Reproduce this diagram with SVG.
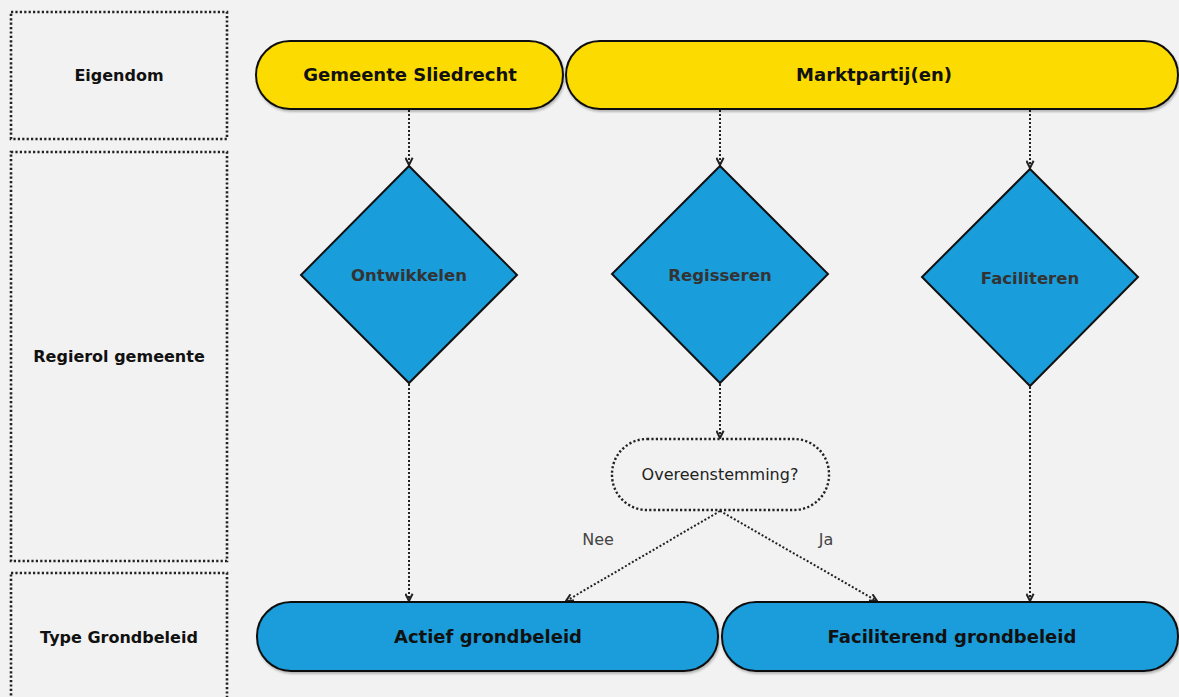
<svg xmlns="http://www.w3.org/2000/svg" width="1179" height="697" viewBox="0 0 1179 697">
<style>
.lane{fill:none;stroke:#222;stroke-width:2.6;stroke-dasharray:2.2 2.2}
.lt{font-family:"DejaVu Sans",Verdana,sans-serif;font-weight:bold;font-size:16px;fill:#111;text-anchor:middle}
.yel{fill:#fcdc04;stroke:#111;stroke-width:2}
.blu{fill:#1a9ddb;stroke:#111;stroke-width:2}
.pt{font-family:"DejaVu Sans",Verdana,sans-serif;font-weight:bold;font-size:18px;fill:#111;text-anchor:middle}
.dt{font-family:"DejaVu Sans",Verdana,sans-serif;font-weight:bold;font-size:16.5px;fill:#333;text-anchor:middle}
.con{fill:none;stroke:#222;stroke-width:2;stroke-dasharray:2 2}
.q{fill:#f2f2f2;stroke:#222;stroke-width:2.4;stroke-dasharray:2.2 2.2}
.qt{font-family:"DejaVu Sans",Verdana,sans-serif;font-size:16px;fill:#222;text-anchor:middle}
.lbl{font-family:"DejaVu Sans",Verdana,sans-serif;font-size:16px;fill:#444;text-anchor:middle}
</style>
<defs>
<marker id="arr" viewBox="0 0 10 10" refX="9" refY="5" markerWidth="9" markerHeight="9" markerUnits="userSpaceOnUse" orient="auto">
<path d="M1,1 L9,5 L1,9" fill="none" stroke="#222" stroke-width="2.2"/>
</marker>
<filter id="sh" x="-5%" y="-10%" width="110%" height="130%">
<feDropShadow dx="1" dy="2" stdDeviation="1" flood-color="#000" flood-opacity="0.25"/>
</filter>
</defs>
<rect width="1179" height="697" fill="#f2f2f2"/>
<g id="lane-eigendom"><rect class="lane" x="11" y="12" width="216" height="127"/><text class="lt" x="119" y="81">Eigendom</text></g>
<g id="lane-regierol"><rect class="lane" x="11" y="152" width="216" height="409"/><text class="lt" x="119" y="362">Regierol gemeente</text></g>
<g id="lane-type"><rect class="lane" x="11" y="573" width="216" height="140"/><text class="lt" x="119" y="643">Type Grondbeleid</text></g>
<g id="connectors">
<line class="con" x1="409" y1="110" x2="409" y2="165" marker-end="url(#arr)"/>
<line class="con" x1="720" y1="110" x2="720" y2="165" marker-end="url(#arr)"/>
<line class="con" x1="1030" y1="110" x2="1030" y2="168" marker-end="url(#arr)"/>
<line class="con" x1="409" y1="384" x2="409" y2="601" marker-end="url(#arr)"/>
<line class="con" x1="720" y1="384" x2="720" y2="438" marker-end="url(#arr)"/>
<line class="con" x1="720" y1="511" x2="566" y2="601" marker-end="url(#arr)"/>
<line class="con" x1="720" y1="511" x2="877" y2="601" marker-end="url(#arr)"/>
<line class="con" x1="1030" y1="387" x2="1030" y2="601" marker-end="url(#arr)"/>
<text class="lbl" x="598" y="545">Nee</text>
<text class="lbl" x="826" y="545">Ja</text>
</g>
<g id="gemeente"><rect class="yel" filter="url(#sh)" x="256" y="41" width="307" height="68" rx="34"/><text class="pt" x="410" y="81">Gemeente Sliedrecht</text></g>
<g id="markt"><rect class="yel" filter="url(#sh)" x="566" y="41" width="612" height="68" rx="34"/><text class="pt" x="874" y="81">Marktpartij(en)</text></g>
<g id="ontwikkelen"><polygon class="blu" points="409,166 517,275 409,383 301,275"/><text class="dt" x="409" y="281">Ontwikkelen</text></g>
<g id="regisseren"><polygon class="blu" points="720,166 828,274 720,383 612,274"/><text class="dt" x="720" y="281">Regisseren</text></g>
<g id="faciliteren"><polygon class="blu" points="1030,169 1138,277 1030,386 922,277"/><text class="dt" x="1030" y="284">Faciliteren</text></g>
<g id="overeenstemming"><rect class="q" x="612" y="439" width="217" height="71" rx="35"/><text class="qt" x="720" y="480">Overeenstemming?</text></g>
<g id="actief"><rect class="blu" filter="url(#sh)" x="257" y="602" width="461" height="69" rx="34"/><text class="pt" x="488" y="643">Actief grondbeleid</text></g>
<g id="faciliterend"><rect class="blu" filter="url(#sh)" x="722" y="602" width="456" height="69" rx="34"/><text class="pt" x="952" y="643">Faciliterend grondbeleid</text></g>
</svg>
